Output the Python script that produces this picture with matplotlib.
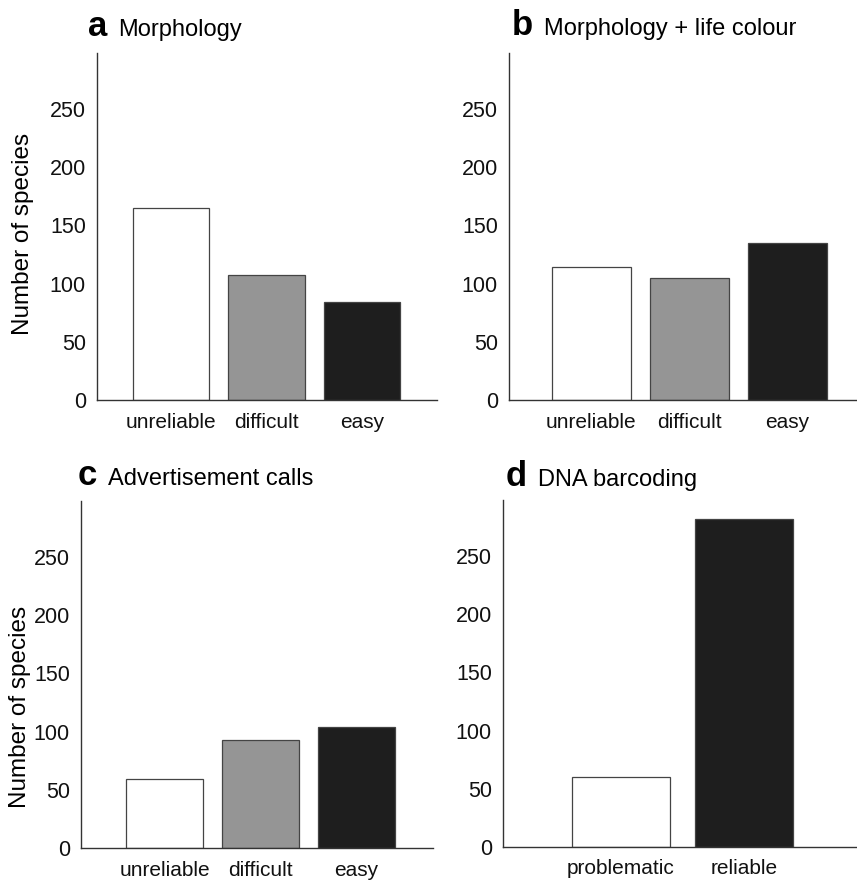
import matplotlib
matplotlib.use("Agg")
import matplotlib.pyplot as plt

plt.rcParams['font.family'] = ['Liberation Sans', 'DejaVu Sans']

# data
cats_abc = ['unreliable', 'difficult', 'easy']
cats_d = ['problematic', 'reliable']
morph = [165, 107, 84]
morph_colour = [114, 105, 135]
calls = [59, 93, 104]
barcoding = [60, 282]

colors3 = ['white', '#959595', '#1e1e1e']
colors2 = ['white', '#1e1e1e']
edge = '#444444'

W, H = 857, 885
fig = plt.figure(figsize=(W / 100, H / 100), dpi=100)


def px_axes(left, right, bottom, top):
    return fig.add_axes([left / W, 1 - bottom / H, (right - left) / W, (bottom - top) / H])


def style(ax, cats, vals, cols, xlim):
    x = list(range(len(cats)))
    ax.bar(x, vals, width=0.8, color=cols, edgecolor=edge, linewidth=0.9)
    ax.set_xlim(*xlim)
    ax.set_ylim(0, 298)
    ax.set_yticks([0, 50, 100, 150, 200, 250])
    ax.set_xticks(x)
    ax.set_xticklabels(cats, fontsize=15)
    ax.tick_params(axis='y', labelsize=15.5)
    ax.tick_params(axis='both', length=0, colors='#111111')
    ax.tick_params(axis='x', pad=9)
    ax.tick_params(axis='y', pad=8)
    for s in ['top', 'right']:
        ax.spines[s].set_visible(False)
    for s in ['left', 'bottom']:
        ax.spines[s].set_color('#333333')
        ax.spines[s].set_linewidth(1.0)


def title(xl, xt, y, letter, text):
    fig.text(xl / W, 1 - y / H, letter, fontsize=25, fontweight='bold', va='baseline')
    fig.text(xt / W, 1 - y / H, text, fontsize=17, va='baseline')


ax_a = px_axes(97, 437, 400, 53)
style(ax_a, cats_abc, morph, colors3, (-0.78, 2.79))
ax_a.set_ylabel('Number of species', fontsize=17.5)
ax_a.yaxis.set_label_coords(-0.186, 0.478)
title(88, 118, 36, 'a', 'Morphology')

ax_b = px_axes(509, 857, 400, 53)
style(ax_b, cats_abc, morph_colour, colors3, (-0.84, 2.71))
title(512, 544, 35, 'b', 'Morphology + life colour')

ax_c = px_axes(81, 433, 848, 501)
style(ax_c, cats_abc, calls, colors3, (-0.87, 2.8))
ax_c.set_ylabel('Number of species', fontsize=17.5)
ax_c.yaxis.set_label_coords(-0.142, 0.406)
title(78, 108, 485, 'c', 'Advertisement calls')

ax_d = px_axes(503, 857, 847, 500)
style(ax_d, cats_d, barcoding, colors2, (-0.96, 1.92))
title(506, 538, 486, 'd', 'DNA barcoding')

fig.savefig('out.png', dpi=100)
